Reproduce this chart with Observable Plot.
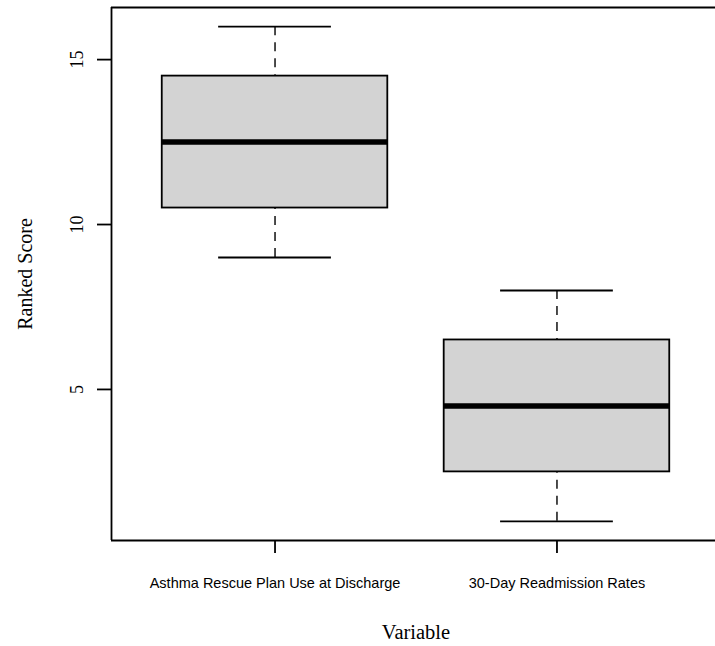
<!DOCTYPE html>
<html>
<head>
<meta charset="utf-8">
<script src="https://cdn.jsdelivr.net/npm/d3@7"></script>
<script src="https://cdn.jsdelivr.net/npm/@observablehq/plot@0.6"></script>
<style>
  html, body { margin: 0; padding: 0; background: white; overflow: hidden; }
</style>
</head>
<body>
<div id="chart"></div>
<script>
const categories = ["Asthma Rescue Plan Use at Discharge", "30-Day Readmission Rates"];
const mins    = [9, 1];
const q1s     = [10.5, 2.5];
const medians = [12.5, 4.5];
const q3s     = [14.5, 6.5];
const maxs    = [16, 8];
const yTicks  = [5, 10, 15];
const yTitle  = "Ranked Score";
const xTitle  = "Variable";

const xDomain = [0.42, 2.58];
const yDomain = [0.42, 16.58];

const rows = categories.map((c, i) => ({
  category: c, pos: i + 1,
  min: mins[i], q1: q1s[i], median: medians[i], q3: q3s[i], max: maxs[i]
}));

const serif = "Liberation Serif, Times New Roman, serif";
const sans = "Liberation Sans, Arial, sans-serif";
const lw = 1.8;

const chart = Plot.plot({
  width: 715,
  height: 646,
  marginLeft: 111,
  marginRight: 0,
  marginTop: 7,
  marginBottom: 106,
  style: {background: "white", overflow: "visible", maxWidth: "none"},
  x: {type: "linear", domain: xDomain, range: [111, 720]},
  y: {type: "linear", domain: yDomain},
  marks: [
    // whiskers (dashed), drawn from the whisker end toward the box
    Plot.ruleX(rows, {x: "pos", y1: "min", y2: "q1", stroke: "black", strokeWidth: 1.4, strokeDasharray: "9,7"}),
    Plot.ruleX(rows, {x: "pos", y1: "max", y2: "q3", stroke: "black", strokeWidth: 1.4, strokeDasharray: "9,7"}),
    // whisker caps
    Plot.ruleY(rows, {y: "min", x1: d => d.pos - 0.2, x2: d => d.pos + 0.2, stroke: "black", strokeWidth: lw}),
    Plot.ruleY(rows, {y: "max", x1: d => d.pos - 0.2, x2: d => d.pos + 0.2, stroke: "black", strokeWidth: lw}),
    // boxes
    Plot.rect(rows, {x1: d => d.pos - 0.4, x2: d => d.pos + 0.4, y1: "q1", y2: "q3", fill: "#d3d3d3", stroke: "black", strokeWidth: lw}),
    // medians
    Plot.ruleY(rows, {y: "median", x1: d => d.pos - 0.4, x2: d => d.pos + 0.4, stroke: "black", strokeWidth: 5.5}),
    // plot box (right side lies beyond the visible area)
    Plot.ruleY(yDomain, {y: d => d, stroke: "black", strokeWidth: lw}),
    Plot.ruleX([xDomain[0]], {x: d => d, stroke: "black", strokeWidth: lw}),
    // axes ticks
    Plot.axisY({ticks: yTicks, tickSize: 14, tickFormat: () => "", strokeWidth: lw, label: null}),
    Plot.axisX({ticks: rows.map(d => d.pos), tickSize: 13, tickFormat: () => "", strokeWidth: lw, label: null}),
    // y tick labels (rotated, serif)
    Plot.text(yTicks, {y: d => d, text: d => String(d), frameAnchor: "left", dx: -29, rotate: -90,
      lineAnchor: "bottom", textAnchor: "middle", fontSize: 18, fontFamily: serif, fill: "black"}),
    // x category labels
    Plot.text(rows, {x: "pos", text: "category", frameAnchor: "bottom", dy: 47, lineAnchor: "bottom",
      textAnchor: "middle", fontSize: 14.5, fontFamily: sans, fill: "black"}),
    // axis titles
    Plot.text([yTitle], {text: d => d, frameAnchor: "left", dx: -80, rotate: -90, lineAnchor: "bottom",
      textAnchor: "middle", fontSize: 20, fontFamily: serif, fill: "black"}),
    Plot.text([xTitle], {x: d3.mean(xDomain), text: d => d, frameAnchor: "bottom", dy: 98, lineAnchor: "bottom",
      textAnchor: "middle", fontSize: 20.5, fontFamily: serif, fill: "black"})
  ]
});
document.getElementById("chart").appendChild(chart);
</script>
</body>
</html>
